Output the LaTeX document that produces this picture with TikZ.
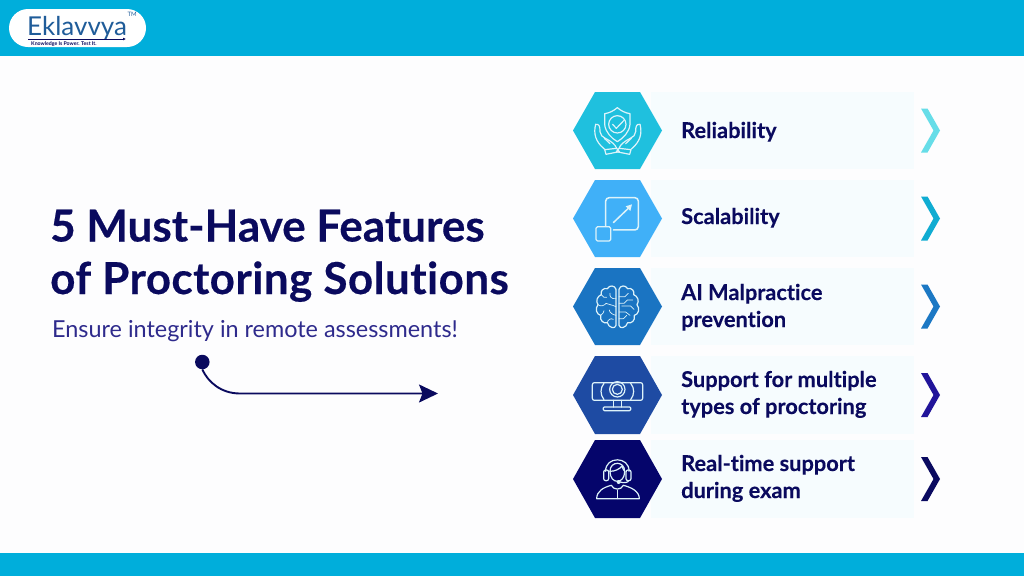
\documentclass[tikz,border=0pt]{standalone}
\usepackage{fontspec}
\setmainfont{Lato}[Ligatures=NoCommon]
\newfontfamily\heavy{Lato}[UprightFont=* Bold,FakeBold=0.35,Ligatures=NoCommon]
\newfontfamily\heavywide{Lato}[UprightFont=* Bold,FakeBold=0.35,Ligatures=NoCommon,LetterSpace=0.95]
\newfontfamily\semi{Lato}[UprightFont=* Bold,FakeBold=0.15,Ligatures=NoCommon]
\usetikzlibrary{arrows.meta}
\definecolor{bandblue}{HTML}{00AEDB}
\definecolor{paper}{HTML}{FDFDFE}
\definecolor{panelc}{HTML}{F6FCFE}
\definecolor{navy}{HTML}{0A0A5E}
\definecolor{subc}{HTML}{2E2A8C}
\definecolor{logoc}{HTML}{1F5C99}
\definecolor{hexa}{HTML}{1FC0DE}
\definecolor{hexb}{HTML}{40B0F8}
\definecolor{hexc}{HTML}{1A74C2}
\definecolor{hexd}{HTML}{1E4BA3}
\definecolor{hexe}{HTML}{05056B}
\definecolor{chva}{HTML}{66DDE8}
\definecolor{chvb}{HTML}{10ACD2}
\definecolor{chvc}{HTML}{1C78C4}
\definecolor{chvd}{HTML}{21149A}
\definecolor{chve}{HTML}{0A0A60}
\definecolor{iconl}{HTML}{DDF3FA}
\tikzset{
  x=1pt,y=-1pt,
  title/.style={anchor=base west,inner sep=0pt,font=\fontsize{44}{44}\selectfont\heavy,text=navy},
  titlewide/.style={anchor=base west,inner sep=0pt,font=\fontsize{44}{44}\selectfont\heavywide,text=navy},
  sub/.style={anchor=base west,inner sep=0pt,font=\fontsize{23.4}{23.4}\selectfont,text=subc},
  lab/.style={anchor=base west,inner sep=0pt,font=\fontsize{21.8}{21.8}\selectfont\semi,text=navy},
  icon/.style={draw=iconl,line width=1.2pt,line join=round,line cap=round,fill=none},
  thin icon/.style={icon,line width=.7pt},
}
\newcommand{\hexrow}[4]{% top bottom fill chevron
  \fill[panelc] (651,#1) -- (914,#1) -- (914,#2) -- (651,#2) -- cycle;
  \fill[#3] (573,{(#1+#2)/2}) -- (595,#1) -- (640,#1) -- (662,{(#1+#2)/2}) -- (640,#2) -- (595,#2) -- cycle;
  \fill[#4] (921,{(#1+#2)/2-22}) -- (927.5,{(#1+#2)/2-22}) -- (940,{(#1+#2)/2}) -- (927.5,{(#1+#2)/2+22}) -- (921,{(#1+#2)/2+22}) -- (933.5,{(#1+#2)/2}) -- cycle;
}
\begin{document}
\begin{tikzpicture}
\useasboundingbox (0,0) rectangle (1024,576);
\fill[paper] (0,0) rectangle (1024,576);
\fill[bandblue] (0,0) rectangle (1024,56);
\fill[bandblue] (0,553) rectangle (1024,576);
% logo
\fill[white,rounded corners=19pt] (9,9) rectangle (146,47);
\node[anchor=base west,inner sep=0pt,text=logoc,font=\fontsize{26}{26}\selectfont] (logo) at (27,35) {Eklavvya};
\node[anchor=base west,inner sep=0pt,text=logoc,font=\fontsize{6}{6}\selectfont] (tm) at (127.5,16) {TM};
\node[anchor=base west,inner sep=0pt,text=navy,font=\fontsize{5.2}{5.2}\selectfont\bfseries] (tag) at (31,45) {Knowledge Is Power. Test It.};
\draw[navy,line width=.6pt,-{Latex[length=3pt,width=3pt]}] (28,39) -- (126,39);
% text
\node[title] (t1) at (50,241.5) {5 Must-Have Features};
\node[titlewide] (t2) at (50,294) {of Proctoring Solutions};
\node[sub] (s1) at (52,337) {Ensure integrity in remote assessments!};
% arrow
\node[circle,fill=navy,inner sep=0pt,minimum size=14.5pt] (dot) at (202.3,362) {};
\coordinate (tip) at (438,393.5);
\draw[navy,line width=1.9pt,-{Stealth[length=19pt,width=18pt,inset=3.5pt]}] (dot.south) .. controls (208,382) and (221,393.5) .. (240,393.5) -- (tip);
% rows
\hexrow{92}{169}{hexa}{chva}
\hexrow{180}{257}{hexb}{chvb}
\hexrow{268}{345}{hexc}{chvc}
\hexrow{356}{434}{hexd}{chvd}
\hexrow{440}{518}{hexe}{chve}
% icon 1: shield and hands
\begin{scope}[shift={(560,85)},x=.3333pt,y=-.3333pt]
\draw[icon] (172,68) .. controls (160,78) and (148,84) .. (134,86) -- (134,118) .. controls (136,142) and (155,160) .. (172,170) .. controls (189,160) and (208,142) .. (210,118) -- (210,86) .. controls (196,84) and (184,78) .. (172,68) -- cycle;
\draw[icon] (172,118) circle[radius=26];
\draw[icon] (158,118) -- (169,130) -- (192,106);
\draw[icon] (107,118) .. controls (100,145) and (106,170) .. (133,192);
\draw[icon] (107,118) .. controls (118,116) and (120,125) .. (120,140) .. controls (120,150) and (128,156) .. (136,160) .. controls (152,168) and (166,178) .. (170,190);
\draw[icon] (133,160) -- (150,176);
\draw[icon] (134,194) -- (170,190) -- (178,200) -- (138,208) -- cycle;
\draw[icon] (240,118) .. controls (247,145) and (241,170) .. (214,192);
\draw[icon] (240,118) .. controls (229,116) and (227,125) .. (227,140) .. controls (227,150) and (219,156) .. (211,160) .. controls (195,168) and (181,178) .. (177,190);
\draw[icon] (214,160) -- (197,176);
\draw[icon] (213,194) -- (177,190) -- (169,200) -- (209,208) -- cycle;
\end{scope}
% icon 2: scale
\begin{scope}[shift={(560,85)},x=.3333pt,y=-.3333pt]
\draw[icon,line width=1.5pt,rounded corners=3.5pt] (137,422) -- (137,338) -- (235,338) -- (235,435) -- (160,435);
\draw[icon,line width=1.2pt,rounded corners=1.5pt] (108,425) rectangle (152,468);
\draw[icon,line width=1.5pt] (160,413) -- (205,370);
\fill[iconl] (216,358) -- (211,378) -- (197,364) -- cycle;
\end{scope}
% icon 3: brain
\begin{scope}[shift={(560,262)},x=.3333pt,y=-.3333pt]
\draw[icon] (168,82) .. controls (165,70) and (148,68) .. (142,80) .. controls (130,76) and (120,88) .. (124,98) .. controls (112,102) and (106,118) .. (114,128) .. controls (104,140) and (110,158) .. (122,160) .. controls (118,176) and (132,186) .. (142,182) .. controls (146,198) and (166,202) .. (168,190) -- cycle;
\draw[icon] (177,82) .. controls (180,70) and (197,68) .. (203,80) .. controls (215,76) and (225,88) .. (221,98) .. controls (233,102) and (239,118) .. (231,128) .. controls (241,140) and (235,158) .. (223,160) .. controls (227,176) and (213,186) .. (203,182) .. controls (199,198) and (179,202) .. (177,190) -- cycle;
\draw[thin icon] (168,110) .. controls (155,112) and (148,104) .. (150,94);
\draw[thin icon] (124,98) .. controls (128,106) and (134,108) .. (140,106);
\draw[thin icon] (114,128) .. controls (122,134) and (132,132) .. (138,124) .. controls (146,128) and (156,128) .. (168,134);
\draw[thin icon] (122,160) .. controls (128,156) and (132,150) .. (132,146);
\draw[thin icon] (168,160) .. controls (156,158) and (148,150) .. (148,144);
\draw[thin icon] (142,182) .. controls (144,172) and (152,168) .. (160,172);
\draw[thin icon] (177,104) -- (195,104) -- (205,94);
\draw[thin icon] (177,124) -- (192,124) -- (202,114) -- (218,114);
\draw[thin icon] (185,132) -- (212,132) -- (222,142);
\draw[thin icon] (177,150) -- (197,150) -- (210,160);
\draw[thin icon] (177,170) -- (190,170) -- (200,160);
\end{scope}
% icon 4: webcam
\begin{scope}[shift={(560,262)},x=.3333pt,y=-.3333pt]
\draw[icon,rounded corners=2pt] (97,362) rectangle (248,415);
\draw[icon] (172,382) circle[radius=23];
\draw[icon] (172,382) circle[radius=15];
\draw[icon] (132,364) .. controls (120,378) and (120,398) .. (132,413);
\draw[icon] (212,364) .. controls (224,378) and (224,398) .. (212,413);
\draw[icon] (160,415) -- (160,435);
\draw[icon] (185,415) -- (185,435);
\draw[icon,rounded corners=1pt] (130,435) rectangle (212,446);
\end{scope}
% icon 5: agent
\begin{scope}[shift={(560,262)},x=.3333pt,y=-.3333pt]
\draw[icon] (137,628) .. controls (135,582) and (209,582) .. (207,628);
\draw[icon] (150,628) .. controls (150,596) and (194,596) .. (194,628);
\draw[icon] (150,628) .. controls (165,628) and (178,622) .. (186,612) .. controls (188,620) and (192,626) .. (194,628);
\draw[icon] (150,628) .. controls (150,668) and (194,668) .. (194,628);
\draw[icon,rounded corners=2pt] (131,624) rectangle (146,656);
\draw[icon,rounded corners=2pt] (198,624) rectangle (213,656);
\draw[icon] (206,656) .. controls (204,662) and (192,664) .. (180,660);
\fill[iconl] (176,660) circle[radius=6];
\draw[icon] (110,710) .. controls (110,688) and (130,676) .. (154,670) .. controls (160,685) and (184,685) .. (190,670) .. controls (214,676) and (238,688) .. (238,710) -- cycle;
\draw[icon] (172,685) -- (172,710);
\end{scope}
\node[lab] (l1) at (681,138) {Reliability};
\node[lab] (l2) at (681,224) {Scalability};
\node[lab] (l3a) at (681,300) {AI Malpractice};
\node[lab] (l3b) at (681,327) {prevention};
\node[lab] (l4a) at (681,387) {Support for multiple};
\node[lab] (l4b) at (681,414) {types of proctoring};
\node[lab] (l5a) at (681,471) {Real-time support};
\node[lab] (l5b) at (681,498) {during exam};
\end{tikzpicture}
\end{document}
